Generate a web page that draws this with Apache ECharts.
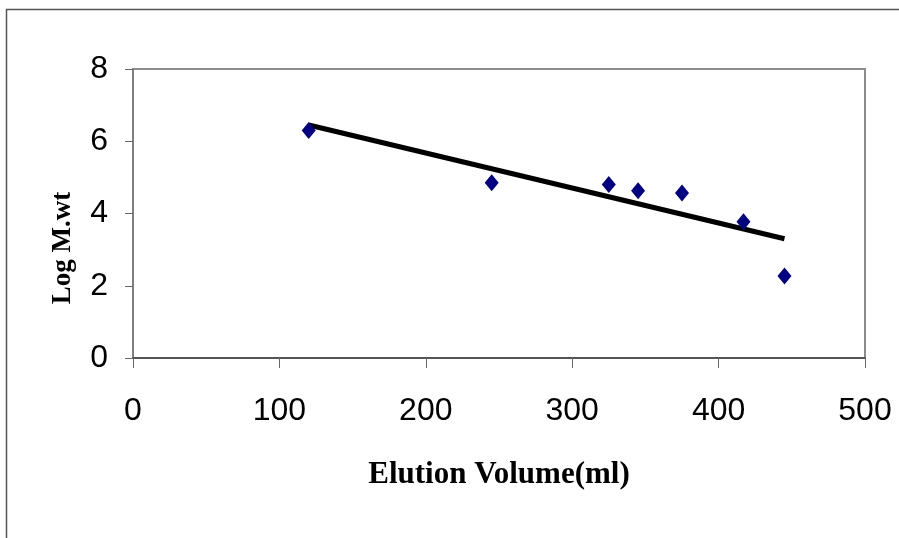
<!DOCTYPE html>
<html>
<head>
<meta charset="utf-8">
<script src="https://cdn.jsdelivr.net/npm/echarts@6/dist/echarts.min.js"></script>
<style>
  html, body { margin: 0; padding: 0; background: #fff; }
  #chart { width: 899px; height: 538px; }
</style>
</head>
<body>
<div id="chart"></div>
<script>
// measured points (elution volume, log molecular weight)
const elutionVolume = [120, 245, 325, 345, 375, 417, 445];
const logMwt = [6.3, 4.85, 4.8, 4.63, 4.57, 3.77, 2.27];
// trendline end points as drawn
const trendX = [120, 445];
const trendY = [6.45, 3.3];

const xTicks = [0, 100, 200, 300, 400, 500];
const yTicks = [0, 2, 4, 6, 8];

const points = elutionVolume.map((v, i) => [v, logMwt[i]]);
const trend = trendX.map((v, i) => [v, trendY[i]]);

const chart = echarts.init(document.getElementById('chart'));
const tickFont = { fontFamily: '"Liberation Sans Narrow", "Liberation Sans", Arial, sans-serif', fontSize: 32, color: '#000' };

chart.setOption({
  animation: false,
  backgroundColor: '#fff',
  graphic: [
    {
      type: 'rect',
      shape: { x: 6.5, y: 9.5, width: 1000, height: 1000 },
      style: { fill: 'none', stroke: '#555', lineWidth: 1.5 },
      silent: true
    },
    {
      type: 'text',
      x: 63, y: 248,
      rotation: Math.PI / 2,
      style: {
        text: 'Log M.wt',
        font: 'bold 27px "Liberation Serif", "Times New Roman", serif',
        fill: '#000',
        align: 'center',
        verticalAlign: 'middle'
      }
    }
  ],
  grid: {
    left: 133, top: 69, right: 34, bottom: 180,
    show: true,
    borderColor: '#8c8c8c',
    borderWidth: 2
  },
  xAxis: {
    type: 'value',
    min: xTicks[0],
    max: xTicks[xTicks.length - 1],
    interval: 100,
    name: 'Elution Volume(ml)',
    nameLocation: 'middle',
    nameGap: 101,
    nameTextStyle: { fontFamily: '"Liberation Serif", "Times New Roman", serif', fontWeight: 'bold', fontSize: 31, color: '#000' },
    axisLine: { lineStyle: { color: '#555', width: 2 } },
    axisTick: { show: true, inside: false, length: 10, lineStyle: { color: '#666', width: 1 } },
    axisLabel: Object.assign({ margin: 37 }, tickFont),
    splitLine: { show: false }
  },
  yAxis: {
    type: 'value',
    min: yTicks[0],
    max: yTicks[yTicks.length - 1],
    interval: 2,
    axisLine: { show: true, lineStyle: { color: '#808080', width: 2 } },
    axisTick: { show: true, inside: false, length: 8, lineStyle: { color: '#666', width: 1 } },
    axisLabel: Object.assign({ margin: 25 }, tickFont),
    splitLine: { show: false }
  },
  series: [
    {
      type: 'line',
      data: trend,
      symbol: 'none',
      lineStyle: { color: '#000', width: 5 },
      z: 2
    },
    {
      type: 'scatter',
      data: points,
      symbol: 'diamond',
      symbolSize: [14, 17],
      itemStyle: { color: '#000080', opacity: 1 },
      z: 3
    }
  ]
});
</script>
</body>
</html>
